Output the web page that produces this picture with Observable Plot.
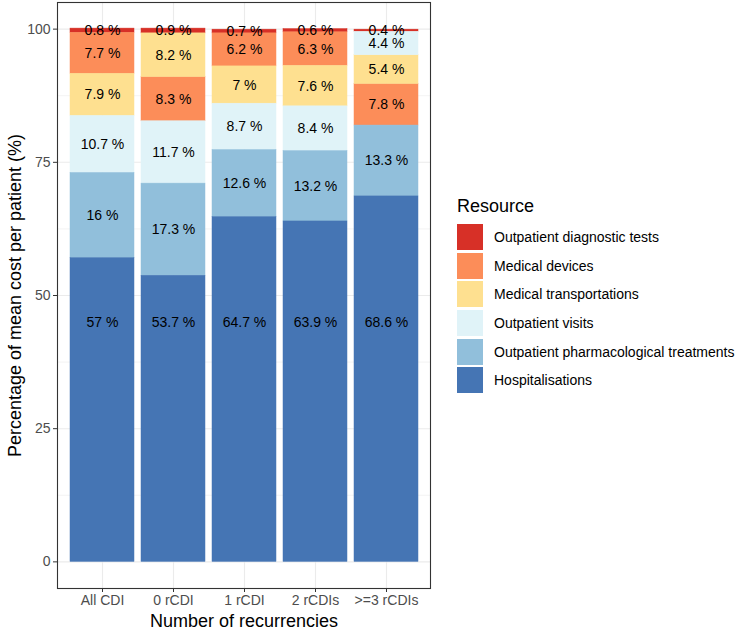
<!DOCTYPE html>
<html>
<head>
<meta charset="utf-8">
<script src="https://cdn.jsdelivr.net/npm/d3@7"></script>
<script src="https://cdn.jsdelivr.net/npm/@observablehq/plot@0.6"></script>
<style>
  html, body { margin: 0; padding: 0; background: #fff; }
  #wrap { position: relative; width: 744px; height: 630px; font-family: "Liberation Sans", Arial, sans-serif; }
  #legend { position: absolute; left: 457px; top: 195px; color: #000; }
  #legend .title { font-size: 18px; height: 28px; line-height: 22px; }
  #legend .row { display: flex; align-items: center; height: 28.6px; }
  #legend .key { width: 26px; height: 26px; margin-right: 11px; }
  #legend .lab { font-size: 14px; }
</style>
</head>
<body>
<div id="wrap"></div>
<script>
const categories = ["All CDI", "0 rCDI", "1 rCDI", "2 rCDIs", ">=3 rCDIs"];
const resources = ["Outpatient diagnostic tests", "Medical devices", "Medical transportations", "Outpatient visits", "Outpatient pharmacological treatments", "Hospitalisations"];
const colors = ["#D73027", "#FC8D59", "#FEE090", "#E0F3F8", "#91BFDB", "#4575B4"];
const diagnosticTests = [0.8, 0.9, 0.7, 0.6, 0.4];
const medicalDevices = [7.7, 8.3, 6.2, 6.3, 7.8];
const transportations = [7.9, 8.2, 7, 7.6, 5.4];
const outpatientVisits = [10.7, 11.7, 8.7, 8.4, 4.4];
const pharmacological = [16, 17.3, 12.6, 13.2, 13.3];
const hospitalisations = [57, 53.7, 64.7, 63.9, 68.6];
const yTicks = [0, 25, 50, 75, 100];
const yMinor = [12.5, 37.5, 62.5, 87.5];

const series = [diagnosticTests, medicalDevices, transportations, outpatientVisits, pharmacological, hospitalisations];
const data = [];
categories.forEach((c, i) => {
  resources.forEach((r, j) => data.push({cat: c, res: r, value: series[j][i]}));
});
const HOSP = "Hospitalisations";

const stackBase = {x: "cat", y: "value", z: "res", order: "value", reverse: true};

const chart = Plot.plot({
  width: 744,
  height: 630,
  marginLeft: 57,
  marginRight: 314,
  marginTop: 2,
  marginBottom: 42,
  style: {fontFamily: "'Liberation Sans', Arial, sans-serif", background: "#fff"},
  x: {domain: categories, paddingInner: 0.1, paddingOuter: 0.15, label: null},
  y: {domain: [-5, 105], label: null},
  color: {domain: resources, range: colors},
  marks: [
    Plot.gridY(yMinor, {stroke: "#EBEBEB", strokeOpacity: 1, strokeWidth: 0.6}),
    Plot.gridY(yTicks, {stroke: "#EBEBEB", strokeOpacity: 1, strokeWidth: 1.1}),
    Plot.gridX(categories, {stroke: "#EBEBEB", strokeOpacity: 1, strokeWidth: 1.1}),
    Plot.barY(data, Plot.stackY({...stackBase, fill: "res", stroke: "res", strokeWidth: 0.5, inset: 0})),
    Plot.text(data, Plot.stackY({...stackBase, text: d => d.res === HOSP ? null : `${d.value} %`, fill: "#000", fontSize: 14})),
    Plot.text(data.filter(d => d.res === HOSP), {x: "cat", y: () => 45, text: d => `${d.value} %`, fill: "#000", fontSize: 14}),
    Plot.frame({stroke: "#333333", strokeWidth: 1.1}),
    Plot.axisY(yTicks, {tickSize: 4, tickPadding: 3, fontSize: 14, color: "#4D4D4D", stroke: "#333333", label: null}),
    Plot.axisX(categories, {tickSize: 4, tickPadding: 3, fontSize: 14, color: "#4D4D4D", stroke: "#333333", label: null}),
    Plot.text(["Percentage of mean cost per patient (%)"], {frameAnchor: "left", dx: -42, rotate: -90, fontSize: 18, fill: "#000", textAnchor: "middle", lineAnchor: "middle"}),
    Plot.text(["Number of recurrencies"], {frameAnchor: "bottom", dy: 33, fontSize: 18, fill: "#000", lineAnchor: "middle"})
  ]
});

const wrap = document.getElementById("wrap");
wrap.appendChild(chart);

const legend = document.createElement("div");
legend.id = "legend";
let html = `<div class="title">Resource</div>`;
resources.forEach((r, j) => {
  html += `<div class="row"><div class="key" style="background:${colors[j]}"></div><div class="lab">${r}</div></div>`;
});
legend.innerHTML = html;
wrap.appendChild(legend);
</script>
</body>
</html>
